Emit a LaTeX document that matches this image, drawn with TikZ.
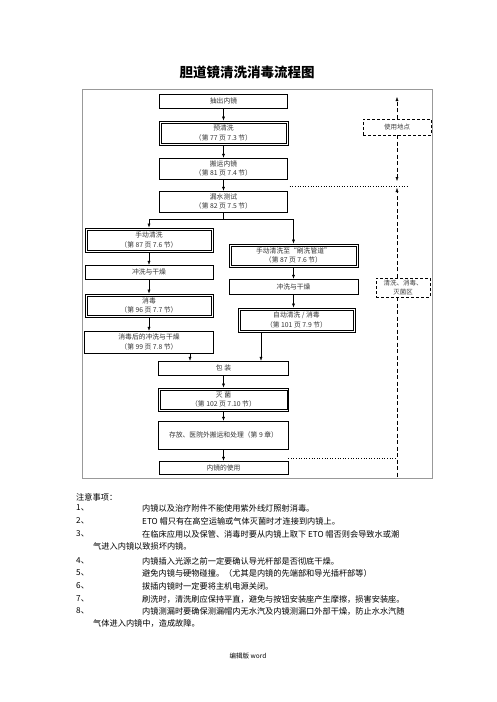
\documentclass[tikz,border=0pt]{standalone}
\usepackage{fontspec}
\setmainfont{Noto Sans CJK SC}
\usepackage{tikz}
\usetikzlibrary{arrows.meta}

\begin{document}
\begin{tikzpicture}[x=1pt, y=-1pt,
    stepbox/.style={draw, minimum width=128pt, minimum height=14pt, inner sep=1pt, align=center,
                    font=\fontsize{6.8}{9.5}\selectfont, text=black!80},
    dblbox/.style={stepbox, line width=0.9pt,
                   path picture={\draw[line width=0.4pt]
                       ([shift={(1.8pt,1.8pt)}]path picture bounding box.south west) rectangle
                       ([shift={(-1.8pt,-1.8pt)}]path picture bounding box.north east);}},
    zonebox/.style={draw, dash pattern=on 3pt off 2pt, inner sep=1pt, align=center,
                    font=\fontsize{6.5}{9}\selectfont, text=black!75},
    zoneline/.style={dash pattern=on 4pt off 2.5pt},
    dotline/.style={dotted, semithick},
    arr/.style={-{Latex[length=4pt, width=3pt]}, line width=0.4pt},
    note/.style={anchor=west, inner sep=0pt, font=\fontsize{8.2}{10}\selectfont}
]
\useasboundingbox (0,0) rectangle (496,702);

% ---- Title ----
\node[font=\fontsize{13.5}{16}\bfseries\selectfont] (titel) at (247,72) {胆道镜清洗消毒流程图};

% ---- Frame ----
\draw[gray!80] (82,89) rectangle (432,478);

% ---- Main column (top) ----
\node[stepbox] (chuchu) at (223.5,101) {抽出内镜};
\node[dblbox, minimum width=129pt, minimum height=24pt] (yuqingxi) at (223.5,133) {预清洗\\（第 77 页 7.3 节）};
\node[stepbox, minimum height=21pt] (banyun) at (223.5,168.5) {搬运内镜\\（第 81 页 7.4 节）};
\node[stepbox, minimum height=21pt] (loushui) at (223.5,201.5) {漏水测试\\（第 82 页 7.5 节）};

% ---- Left branch ----
\node[dblbox, minimum width=128pt, minimum height=24pt] (shoudong) at (149,240) {手动清洗\\（第 87 页 7.6 节）};
\node[stepbox] (chongxiA) at (149,272) {冲洗与干燥};
\node[dblbox, minimum width=128pt, minimum height=23pt] (xiaodu) at (149,305.5) {消毒\\（第 96 页 7.7 节）};
\node[stepbox, minimum width=129pt, minimum height=22pt] (houchuli) at (149,342) {消毒后的冲洗与干燥\\（第 99 页 7.8 节）};

% ---- Right branch ----
\node[dblbox, minimum width=129pt, minimum height=23pt] (shoudongB) at (293.5,255.5) {手动清洗至“刷洗管道”\\（第 87 页 7.6 节）};
\node[stepbox, minimum width=129pt, minimum height=15pt] (chongxiB) at (293.5,286.5) {冲洗与干燥};
\node[dblbox, minimum width=117pt, minimum height=24pt] (zidong) at (296.5,320) {自动清洗 / 消毒\\（第 101 页 7.9 节）};

% ---- Main column (bottom) ----
\node[stepbox, minimum width=130pt] (baozhuang) at (223.5,368) {包 装};
\node[dblbox, minimum width=130pt, minimum height=23pt] (miejun) at (223.5,399.5) {灭 菌\\（第 102 页 7.10 节）};
\node[stepbox, minimum width=130pt, minimum height=28pt] (cunfang) at (223.5,435) {存放、医院外搬运和处理（第 9 章）};
\node[stepbox, minimum width=129pt, minimum height=13pt] (shiyong) at (223.5,467.5) {内镜的使用};

% ---- Zones ----
\node[zonebox, minimum width=68pt, minimum height=16pt] (didian) at (397,127) {使用地点};
\node[zonebox, minimum width=54pt, minimum height=19pt] (qingxiqu) at (403,287.5) {清洗、消毒、\\灭菌区};

% ---- Flow arrows ----
\draw[arr] (chuchu) -- (yuqingxi);
\draw[arr] (yuqingxi) -- (banyun);
\draw[arr] (banyun) -- (loushui);
\coordinate (fenzhi) at (223.5,219);
\draw (loushui.south) -- (fenzhi);
\draw[arr] (fenzhi) -| (shoudong.north);
\draw[arr] (fenzhi) -| (shoudongB.north);
\draw[arr] (shoudong) -- (chongxiA);
\draw[arr] (chongxiA) -- (xiaodu);
\draw[arr] (xiaodu) -- (houchuli);
\draw[arr] (shoudongB) -- (chongxiB);
\draw[arr] (chongxiB.south) -- (chongxiB.south |- zidong.north);
\coordinate (luA) at (190,0);
\coordinate (luB) at (261,0);
\draw[arr] (houchuli.south -| luA) -- (baozhuang.north -| luA);
\draw[arr] (zidong.south -| luB) -- (baozhuang.north -| luB);
\draw[arr] (baozhuang) -- (miejun);
\draw[arr] (miejun) -- (cunfang);
\draw[arr] (cunfang) -- (shiyong);

% ---- Zone borders ----
\coordinate (xianding) at (397,97);
\coordinate (jieA) at (397,186);
\coordinate (jieB) at (397,458);
\coordinate (xiandi) at (397,478);
\draw[zoneline, arr] (didian.north) -- (xianding);
\draw[zoneline, arr] (didian.south) -- ([yshift=5pt]jieA);
\draw[zoneline, arr] (qingxiqu.north -| jieA) -- ([yshift=-2pt]jieA);
\draw[zoneline] (qingxiqu.south -| jieA) -- (xiandi);
\draw[dotline] ([xshift=2pt]loushui.north east |- jieA) -- ([xshift=10pt]jieA);
\draw[dotline] (shiyong.north east |- jieB) -- (jieB);

% ---- Notes ----
\node[note] (zhuyi) at (76,497) {注意事项：};
\foreach \n/\y/\t in {
    1/508/{内镜以及治疗附件不能使用紫外线灯照射消毒。},
    2/521/{ETO 帽只有在高空运输或气体灭菌时才连接到内镜上。},
    3/534/{在临床应用以及保管、消毒时要从内镜上取下 ETO 帽否则会导致水或潮},
    4/561/{内镜插入光源之前一定要确认导光杆部是否彻底干燥。},
    5/573/{避免内镜与硬物碰撞。（尤其是内镜的先端部和导光插杆部等）},
    6/586/{拔插内镜时一定要将主机电源关闭。},
    7/599/{刷洗时，清洗刷应保持平直，避免与按钮安装座产生摩擦，损害安装座。},
    8/611/{内镜测漏时要确保测漏帽内无水汽及内镜测漏口外部干燥，防止水水汽随}}
{
    \node[note] (num\n) at (76,\y) {\n、};
    \node[note] (item\n) at (142,\y) {\t};
}
\node[note] (item3b) at (93,546) {气进入内镜以致损坏内镜。};
\node[note] (item8b) at (93,623) {气体进入内镜中，造成故障。};

% ---- Footer ----
\node[font=\fontsize{6.5}{8}\selectfont] (yejiao) at (248,656) {编辑版 word};

\end{tikzpicture}
\end{document}
